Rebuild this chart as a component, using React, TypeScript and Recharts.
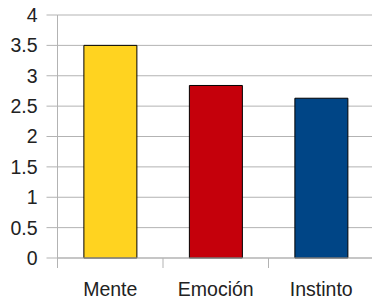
import React from "react";
import { BarChart, Bar, XAxis, YAxis, CartesianGrid, Cell } from "recharts";

const categories = ["Mente", "Emoción", "Instinto"];
const values = [3.5, 2.84, 2.63];
const colors = ["#FFD320", "#C5000B", "#004586"];
const yTicks = [0, 0.5, 1, 1.5, 2, 2.5, 3, 3.5, 4];

const data = categories.map((name, i) => ({ name, value: values[i] }));

const FONT = "'Liberation Sans', Arial, sans-serif";
const GRID = "#b3b3b3";
const FS = 19.5;

const XTick = (props: any) => {
  const { x, y, payload } = props;
  const half = payload && payload.offset ? payload.offset : 52.8;
  const bx = x - half;
  return (
    <g>
      <line x1={bx} y1={y} x2={bx} y2={y + 10} stroke={GRID} strokeWidth={1} />
      <text x={x} y={y + 38} textAnchor="middle" fill="#222" fontSize={FS} fontFamily={FONT}>
        {payload.value}
      </text>
    </g>
  );
};

export default function App() {
  return (
    <div style={{ position: "absolute", left: 0, top: 0, width: 372, height: 305, overflow: "hidden", background: "#fff" }}>
      <BarChart
        width={380}
        height={305}
        data={data}
        margin={{ top: 15, right: 6, bottom: 0, left: 0 }}
        barCategoryGap="25%"
      >
        <CartesianGrid vertical={false} stroke={GRID} strokeDasharray="" />
        <XAxis
          dataKey="name"
          height={47}
          axisLine={{ stroke: GRID }}
          tickLine={false}
          tickSize={0}
          tickMargin={0}
          interval={0}
          tick={<XTick />}
        />
        <YAxis
          width={57.5}
          domain={[0, 4]}
          ticks={yTicks}
          interval={0}
          axisLine={{ stroke: GRID }}
          tickLine={{ stroke: GRID }}
          tickSize={11}
          tickMargin={9}
          tick={{ fill: "#222", fontSize: FS, fontFamily: FONT }}
        />
        <Bar dataKey="value" stroke="#000" strokeWidth={1} isAnimationActive={false}>
          {data.map((d, i) => (
            <Cell key={d.name} fill={colors[i]} />
          ))}
        </Bar>
      </BarChart>
    </div>
  );
}
